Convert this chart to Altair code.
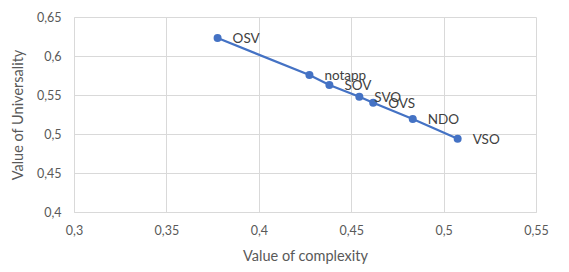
import altair as alt
import pandas as pd

labels = ["OSV", "notapp", "SOV", "SVO", "OVS", "NDO", "VSO"]
complexity = [0.3777, 0.4274, 0.4382, 0.4544, 0.4619, 0.4833, 0.5076]
universality = [0.623, 0.5756, 0.5628, 0.5478, 0.5401, 0.5192, 0.494]

df = pd.DataFrame({"label": labels, "complexity": complexity, "universality": universality,
                   "order": list(range(len(labels)))})

FONT = "Lato"
TXT = "#595959"
BLUE = "#4472C4"

x = alt.X("complexity:Q", scale=alt.Scale(domain=[0.3, 0.55], nice=False, zero=False),
          axis=alt.Axis(values=[0.3, 0.35, 0.4, 0.45, 0.5, 0.55], title="Value of complexity",
                        labelExpr="replace(format(datum.value, '~g'), '.', ',')",
                        ticks=False, domain=True, domainColor="#D9D9D9", gridColor="#D9D9D9",
                        labelFlush=False, labelOverlap=False,
                        labelPadding=12, titlePadding=13, labelFontSize=12.5, titleFontSize=14.5,
                        labelColor=TXT, titleColor=TXT, titleFontWeight="normal",
                        labelFont=FONT, titleFont=FONT))
y = alt.Y("universality:Q", scale=alt.Scale(domain=[0.4, 0.65], nice=False, zero=False),
          axis=alt.Axis(values=[0.4, 0.45, 0.5, 0.55, 0.6, 0.65], title="Value of Universality",
                        labelExpr="replace(format(datum.value, '~g'), '.', ',')",
                        ticks=False, domain=True, domainColor="#D9D9D9", gridColor="#D9D9D9",
                        labelFlush=False, labelOverlap=False,
                        labelPadding=13, titlePadding=11, labelFontSize=12.5, titleFontSize=14.5,
                        labelColor=TXT, titleColor=TXT, titleFontWeight="normal",
                        labelFont=FONT, titleFont=FONT))

base = alt.Chart(df)
line = base.mark_line(color=BLUE, strokeWidth=2.25).encode(x=x, y=y, order="order:Q")
pts = base.mark_circle(color=BLUE, size=64, opacity=1).encode(x=x, y=y)
txt = base.mark_text(align="left", baseline="middle", dx=15, dy=1, fontSize=13.5,
                     color="#404040", font=FONT).encode(x=x, y=y, text="label:N")

chart = (line + pts + txt).properties(
    width=462, height=195,
    autosize=alt.AutoSizeParams(type="none"),
    padding={"left": 66, "top": 9, "right": 25, "bottom": 52},
).configure_view(stroke=None)

chart.save("out.html", embed_options={"renderer": "svg", "actions": False})
